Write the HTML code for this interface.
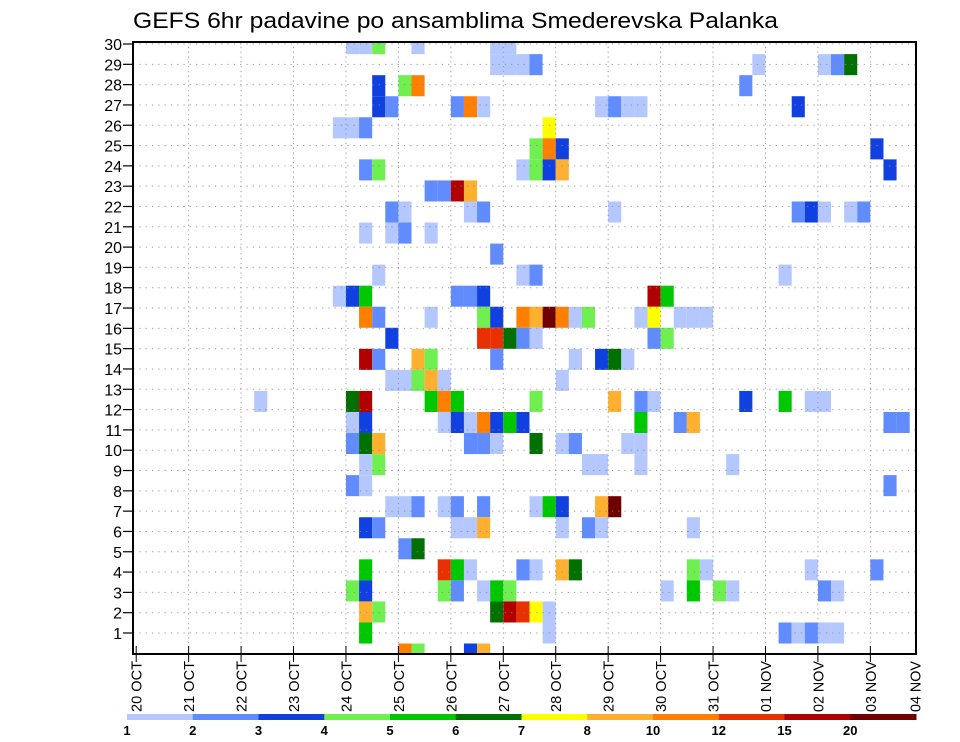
<!DOCTYPE html>
<html><head><meta charset="utf-8"><style>
html,body{margin:0;padding:0;background:#fff;}
svg{display:block;font-family:"Liberation Sans",sans-serif;}
</style></head><body>
<svg id="chart" width="960" height="742" viewBox="0 0 960 742" xmlns="http://www.w3.org/2000/svg">
<text x="133" y="28" font-size="22" textLength="645" lengthAdjust="spacingAndGlyphs" fill="#000">GEFS 6hr padavine po ansamblima Smederevska Palanka</text>
<g id="cells"></g>
<g id="grid"></g>
<g id="axes"></g>
<g id="legend"></g>
</svg>
<script>
// ---- data ----
const dayLabels = ["20 OCT","21 OCT","22 OCT","23 OCT","24 OCT","25 OCT","26 OCT","27 OCT","28 OCT","29 OCT","30 OCT","31 OCT","01 NOV","02 NOV","03 NOV","04 NOV"];
const memberTicks = [1,2,3,4,5,6,7,8,9,10,11,12,13,14,15,16,17,18,19,20,21,22,23,24,25,26,27,28,29,30];
const levelLabels = ["1","2","3","4","5","6","7","8","10","12","15","20"];
const levels = [1,2,3,4,5,6,7,8,10,12,15,20];
const levelColors = ["#b4c8ff","#608cff","#1040e0","#70f050","#00c800","#007000","#ffff00","#ffb030","#ff8000","#e83000","#b00000","#700000"];
// cells: [member, 6h step index from 20 OCT 00z, precipitation mm]
const cellMembers = [
29,29,29,29,29,29,
28,28,28,28,28,28,28,28,
27,27,27,27,
26,26,26,26,26,26,26,26,26,26,
25,25,25,25,
24,24,24,24,
23,23,23,23,23,23,23,
22,22,22,22,
21,21,21,21,21,21,21,21,21,21,
20,20,20,20,
19,
18,18,18,18,
17,17,17,17,17,17,17,17,
16,16,16,16,16,16,16,16,16,16,16,16,16,16,16,16,
15,15,15,15,15,15,15,15,
14,14,14,14,14,14,14,14,14,
13,13,13,13,13,13,
12,12,12,12,12,12,12,12,12,12,12,12,12,12,
11,11,11,11,11,11,11,11,11,11,11,11,11,11,
10,10,10,10,10,10,10,10,10,10,10,
9,9,9,9,9,9,
8,8,8,
7,7,7,7,7,7,7,7,7,7,7,
6,6,6,6,6,6,6,6,6,
5,5,
4,4,4,4,4,4,4,4,4,4,4,4,
3,3,3,3,3,3,3,3,3,3,3,3,3,
2,2,2,2,2,2,2,
1,1,1,1,1,1,1,
0,0,0,0];
const cellSteps = [
16,17,18,21,27,28,
27,28,29,30,47,52,53,54,
18,20,21,46,
18,19,24,25,26,35,36,37,38,50,
15,16,17,31,
30,31,32,56,
17,18,29,30,31,32,57,
22,23,24,25,
19,20,25,26,36,50,51,52,54,55,
17,19,20,22,
27,
18,29,30,49,
15,16,17,24,25,26,39,40,
17,18,22,26,27,29,30,31,32,33,34,38,39,41,42,43,
19,26,27,28,29,30,39,40,
17,18,21,22,27,33,35,36,37,
19,20,21,22,23,32,
9,16,17,22,23,24,30,36,38,39,46,49,51,52,
16,17,23,24,25,26,27,28,29,38,41,42,57,58,
16,17,18,25,26,27,30,32,33,37,38,
17,18,34,35,38,45,
16,17,57,
19,20,21,23,24,26,30,31,32,35,36,
17,18,24,25,26,32,34,35,42,
20,21,
17,23,24,25,29,30,32,33,42,43,51,56,
16,17,23,24,26,27,28,40,42,44,45,52,53,
17,18,27,28,29,30,31,
17,31,49,50,51,52,53,
20,21,25,26];
const cellValues = [
1.5,1.5,4.5,1.5,1.5,1.5,
1.5,1.5,1.5,2.5,1.5,1.5,2.5,6.5,
3.5,4.5,11,2.5,
3.5,2.5,2.5,11,1.5,1.5,2.5,1.5,1.5,3.5,
1.5,1.5,2.5,7.5,
4.5,11,3.5,3.5,
2.5,4.5,1.5,4.5,3.5,9,3.5,
2.5,2.5,17,9,
2.5,1.5,1.5,2.5,1.5,2.5,3.5,1.5,1.5,2.5,
1.5,1.5,2.5,1.5,
2.5,
1.5,1.5,2.5,1.5,
1.5,3.5,5.5,2.5,2.5,3.5,17,5.5,
11,2.5,1.5,4.5,3.5,11,9,22,11,1.5,4.5,1.5,7.5,1.5,1.5,1.5,
3.5,13,13,6.5,2.5,1.5,2.5,4.5,
17,2.5,9,4.5,2.5,1.5,3.5,6.5,1.5,
1.5,1.5,4.5,9,1.5,1.5,
1.5,6.5,17,5.5,11,5.5,4.5,9,2.5,1.5,3.5,5.5,1.5,1.5,
1.5,3.5,1.5,3.5,1.5,11,3.5,5.5,3.5,5.5,2.5,9,2.5,2.5,
2.5,6.5,9,2.5,2.5,1.5,6.5,1.5,2.5,1.5,1.5,
1.5,4.5,1.5,1.5,1.5,1.5,
2.5,1.5,2.5,
1.5,1.5,2.5,1.5,2.5,2.5,1.5,5.5,3.5,9,22,
3.5,2.5,1.5,1.5,9,1.5,2.5,1.5,1.5,
2.5,6.5,
5.5,13,5.5,1.5,2.5,1.5,9,6.5,4.5,1.5,1.5,2.5,
4.5,3.5,4.5,2.5,1.5,5.5,4.5,1.5,5.5,4.5,1.5,2.5,1.5,
9,4.5,6.5,17,13,7.5,1.5,
5.5,1.5,2.5,1.5,2.5,1.5,1.5,
11,4.5,3.5,9];

// ---- layout ----
const NS = "http://www.w3.org/2000/svg";
const PL = 133, PR = 916, PT = 42, PB = 654;
const X0 = 136.2, STEP = 13.11;
function xStep(i){ return X0 + STEP * i; }
function xDay(d){ return X0 + STEP * 4 * d; }
function yTick(m){ return 633 - (m - 1) * 20.31; }
const CELL_H = 21.05;
function yCell(m){ return 633 - (m - 1) * CELL_H; }
function colorFor(v){
  let k = 0;
  for (let i = 0; i < levels.length; i++) if (v >= levels[i]) k = i;
  return levelColors[k];
}
function mk(tag, attrs, parent){
  const e = document.createElementNS(NS, tag);
  for (const k in attrs) e.setAttribute(k, attrs[k]);
  parent.appendChild(e);
  return e;
}
const svg = document.getElementById('chart');
const defs = mk('defs', {}, svg);
const cp = mk('clipPath', {id:'plotclip'}, defs);
mk('rect', {x:PL, y:PT, width:PR-PL, height:PB-PT}, cp);

const gc = document.getElementById('cells');
gc.setAttribute('clip-path', 'url(#plotclip)');
for (let i = 0; i < cellMembers.length; i++) {
  const m = cellMembers[i], s = cellSteps[i], v = cellValues[i];
  const r = mk('rect', {x: xStep(s).toFixed(2), y: (yCell(m) - CELL_H/2).toFixed(2),
    width: STEP.toFixed(2), height: CELL_H.toFixed(2), fill: colorFor(v)}, gc);
  
  
}

const gg = document.getElementById('grid');
for (let m = 1; m <= 30; m++) {
  const y = yTick(m);
  const l = mk('line', {x1:PL, x2:PR, y1:y, y2:y, stroke:'#888', 'stroke-width':1, 'stroke-dasharray':'1.3,5', opacity:0.8}, gg);
  
  
}
for (let d = 1; d < dayLabels.length; d++) {
  const x = xDay(d);
  if (x >= PR) continue;
  const l = mk('line', {x1:x, x2:x, y1:PT, y2:PB, stroke:'#888', 'stroke-width':1, 'stroke-dasharray':'1.3,3.5', opacity:0.8}, gg);
  
  
}

const ga = document.getElementById('axes');
const frame = mk('rect', {x:PL, y:PT, width:PR-PL, height:PB-PT, fill:'none', stroke:'#000', 'stroke-width':2}, ga);


for (let i = 0; i < memberTicks.length; i++) {
  const m = memberTicks[i], y = yTick(m);
  mk('line', {x1:PL-10, x2:PL, y1:y, y2:y, stroke:'#000', 'stroke-width':1.2}, ga);
  const t = mk('text', {x:PL-11, y:y+6, 'text-anchor':'end', 'font-size':16, fill:'#000'}, ga);
  t.textContent = m;
  
  
}
for (let d = 0; d < dayLabels.length; d++) {
  let x = xDay(d);
  if (x < PR) mk('line', {x1:x, x2:x, y1:PB-8, y2:PB+8, stroke:'#000', 'stroke-width':1}, ga);
  if (x > PR) x = PR - 1;
  const t = mk('text', {x:0, y:0, 'text-anchor':'end', 'font-size':15, fill:'#000',
     textLength:51, lengthAdjust:'spacingAndGlyphs',
     transform:'translate(' + (x + 5.5) + ',661) rotate(-90)'}, ga);
  t.textContent = dayLabels[d];
  
  
}

const gl = document.getElementById('legend');
const LX = 127, LW = (916 - 127) / levelColors.length;
for (let i = 0; i < levelColors.length; i++) {
  const r = mk('rect', {x:LX + i*LW, y:714, width:LW + 0.5, height:6, fill:levelColors[i]}, gl);
  
  
  const t = mk('text', {x:LX + i*LW, y:735, 'text-anchor':'middle', 'font-size':13, 'font-weight':'bold', fill:'#000'}, gl);
  t.textContent = levelLabels[i];
  
  
}
</script>
</body></html>
